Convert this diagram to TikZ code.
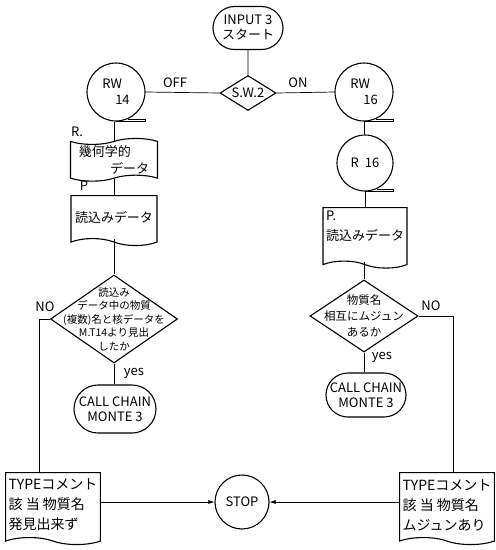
\documentclass[tikz,border=0pt]{standalone}
\usepackage{fontspec}
\setmainfont{Noto Sans CJK JP}
\usetikzlibrary{positioning, shapes.geometric, shapes.misc, shapes.symbols, arrows.meta}
\tikzset{
  shp/.style={draw, line width=1.1pt},
  term/.style={shp, rounded rectangle, inner sep=1pt, align=center, font=\fontsize{13}{15}\selectfont},
  dec/.style={shp, diamond, inner sep=0pt},
  mt/.style={shp, circle, inner sep=0pt, minimum size=58pt, font=\fontsize{13}{16}\selectfont},
  ptape/.style={shp, tape, tape bend height=6pt, inner sep=1pt, align=left, font=\fontsize{13}{17}\selectfont},
  docu/.style={shp, tape, tape bend top=none, tape bend bottom=out and in, tape bend height=7pt,
               inner sep=3pt, align=left, font=\fontsize{13}{20}\selectfont},
  txt/.style={font=\fontsize{10.5}{13.5}\selectfont, align=center, inner sep=0pt},
  lbl/.style={font=\fontsize{13}{15}\selectfont, inner sep=1pt},
  ln/.style={line width=0.7pt},
  ar/.style={ln, -{Latex[length=6pt, width=4pt]}}
}
\begin{document}
\begin{tikzpicture}[x=1pt, y=-1pt]
  \useasboundingbox (0,0) rectangle (496,550);
  % top
  \node[term, minimum width=72pt, minimum height=43pt] (start) at (248,28) {INPUT 3\\スタート};
  \node[dec, minimum width=56pt, minimum height=35pt] (sw) at (248,93) {};
  \node[lbl] (swtxt) at (sw.center) {S.W.2};
  % left column
  \node[mt, align=left] (rw14) at (116,92) {RW\\\hspace*{1em}14};
  \node[ptape, minimum width=87pt, minimum height=36pt, anchor=north] (geo) at (114,141) {幾何学的\\\hspace*{2.4em}データ};
  \node[docu, minimum width=86pt, minimum height=50pt, anchor=north] (rd14) at (114,195) {読込みデータ};
  \node[dec, minimum width=127pt, minimum height=88pt] (chk14) at (114,319) {};
  \node[txt] (chk14txt) at (chk14.center) {読込み\\データ中の物質\\(複数)名と核データを\\M.T14より見出\\したか};
  \node[term, minimum width=84pt, minimum height=48pt] (call14) at (115,409) {CALL CHAIN\\MONTE 3};
  % right column
  \node[mt, align=left] (rw16) at (364,92) {RW\\\hspace*{1em}16};
  \node[mt, minimum size=56pt] (r16) at (365,163) {R\ \ 16};
  \node[docu, minimum width=84pt, minimum height=56pt, anchor=north] (rd16) at (365,207) {P.\\読込みデータ\\[-2pt]};
  \node[dec, minimum width=108pt, minimum height=72pt] (chk16) at (364,316) {};
  \node[txt, font=\fontsize{11.5}{16}\selectfont] (chk16txt) at (chk16.center) {物質名\\相互にムジュン\\あるか};
  \node[term, minimum width=82pt, minimum height=44pt] (call16) at (366,395) {CALL CHAIN\\MONTE 3};
  % bottom row
  \node[docu, minimum width=93pt, minimum height=72pt, anchor=north, font=\fontsize{14}{20}\selectfont] (msg14) at (53,472) {TYPEコメント\\該 当 物質名\\発見出来ず};
  \node[docu, minimum width=94pt, minimum height=72pt, anchor=north, font=\fontsize{14}{20}\selectfont] (msg16) at (447,472) {TYPEコメント\\該 当 物質名\\ムジュンあり};
  \node[shp, circle, minimum size=54pt, inner sep=0pt, font=\fontsize{13}{15}\selectfont] (stop) at (242,502) {STOP};
  % tape tails
  \foreach \t in {rw14, rw16, r16}
    \draw[shp, line width=0.9pt] (\t.-66) -- (\t.-66 -| \t.east) -- (\t.south -| \t.east) -- (\t.south);
  % texts on lines
  \node[lbl] (off) at (175,83) {OFF};
  \node[lbl] (on) at (298,83) {ON};
  \node[lbl] (rlbl) at (77,132) {R.};
  \node[lbl] (plbl) at (84,186) {P};
  \node[lbl] (no14) at (45,307) {NO};
  \node[lbl] (no16) at (431,306) {NO};
  \node[lbl] (yes14) at (134,373) {yes};
  \node[lbl] (yes16) at (382,357) {yes};
  % flow lines
  \draw[ln] (start) -- (sw);
  \draw[ln] (sw.west) -- (rw14.east);
  \draw[ln] (sw.east) -- (rw16.west);
  \draw[ln] (rw14.south -| geo.north) -- (geo.north);
  \draw[ln] (geo.south) -- (rd14.north);
  \draw[ln] (rd14.south) -- (chk14.north);
  \draw[ln] (chk14.south) -- (call14.north -| chk14.south);
  \draw[ln] (chk14.west) -| ([xshift=-14pt]msg14.north);
  \draw[ln] (rw16.south) -- (r16.north -| rw16.south);
  \draw[ln] (r16.south) -- (rd16.north -| r16.south);
  \draw[ln] (rd16.south -| chk16.north) -- (chk16.north);
  \draw[ln] (chk16.south) -- (call16.north -| chk16.south);
  \draw[ln] (chk16.east) -| ([xshift=6pt]msg16.north);
  \draw[ar] (msg14.east |- stop.west) -- (stop.west);
  \draw[ar] (msg16.west |- stop.east) -- (stop.east);
\end{tikzpicture}
\end{document}
